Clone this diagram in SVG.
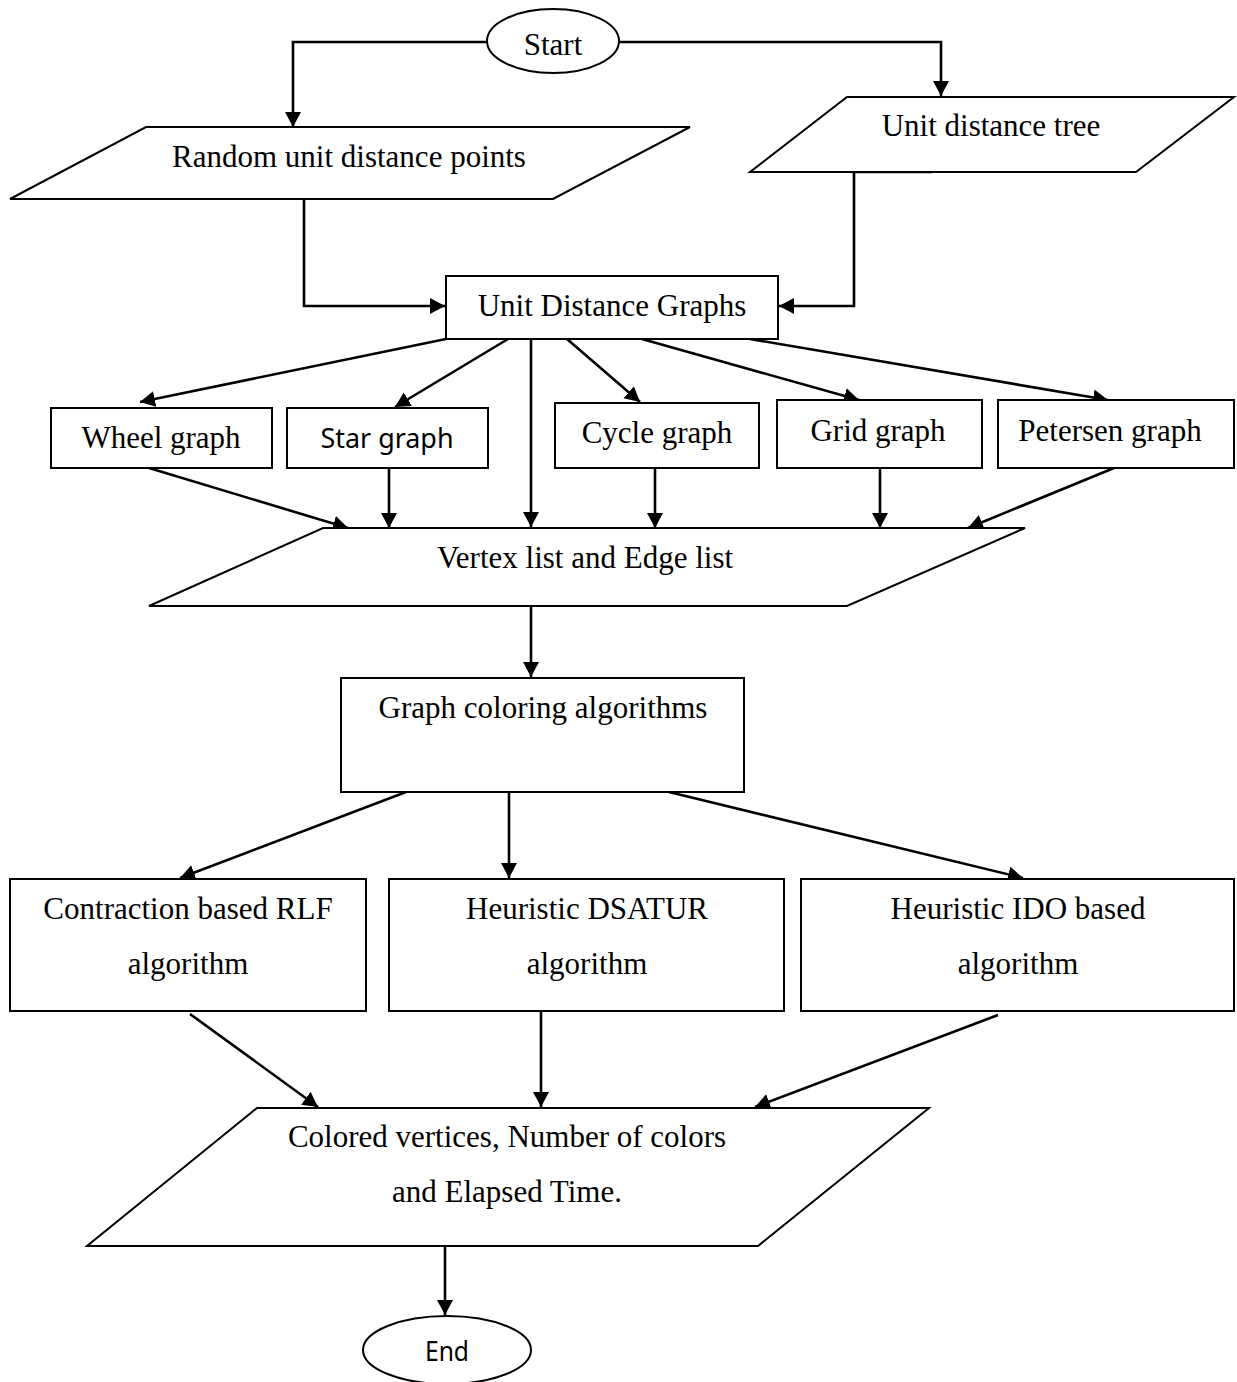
<svg xmlns="http://www.w3.org/2000/svg" width="1237" height="1382" viewBox="0 0 1237 1382">
  <style>
    .shape { fill: #ffffff; stroke: #000000; stroke-width: 2; }
    .lbl { font-family: "Liberation Serif", "Times New Roman", serif; font-size: 31px; fill: #000000; text-anchor: middle; }
    .sans { font-family: "Noto Sans", "Open Sans", sans-serif; font-size: 27px; fill: #000000; text-anchor: middle; }
    .edge { fill: none; stroke: #000000; stroke-width: 2.6; marker-end: url(#arrow); }
  </style>
  <defs>
    <marker id="arrow" markerUnits="userSpaceOnUse" markerWidth="18" markerHeight="18" refX="15" refY="8" orient="auto">
      <path d="M0,0 L15,8 L0,16 z" fill="#000000"/>
    </marker>
  </defs>
  <rect width="1237" height="1382" fill="#ffffff"/>

  <!-- connectors -->
  <g id="connectors">
    <path class="edge" d="M487,42 H293 V127"/>
    <path class="edge" d="M619,42 H941 V96"/>
    <path class="edge" d="M932,172 H854 V306 H779"/>
    <path class="edge" d="M304,199 V306 H445"/>
    <path class="edge" d="M446,339 L140,402"/>
    <path class="edge" d="M508,339 L395,407"/>
    <path class="edge" d="M531,339 V527"/>
    <path class="edge" d="M567,339 L640,402"/>
    <path class="edge" d="M642,339 L859,400"/>
    <path class="edge" d="M750,339 L1108,400"/>
    <path class="edge" d="M149,468 L348,528"/>
    <path class="edge" d="M389,468 V528"/>
    <path class="edge" d="M655,468 V528"/>
    <path class="edge" d="M880,468 V528"/>
    <path class="edge" d="M1114,468 L968,528"/>
    <path class="edge" d="M531,606 V677"/>
    <path class="edge" d="M406,792 L180,878"/>
    <path class="edge" d="M509,792 V878"/>
    <path class="edge" d="M669,792 L1023,878"/>
    <path class="edge" d="M190,1014 L318,1107"/>
    <path class="edge" d="M541,1011 V1107"/>
    <path class="edge" d="M998,1015 L755,1107"/>
    <path class="edge" d="M445,1246 V1315"/>
  </g>

  <!-- terminal: start -->
  <g id="start">
    <ellipse class="shape" cx="553" cy="41" rx="66" ry="32"/>
    <text class="lbl" x="553" y="55">Start</text>
  </g>

  <!-- input: random points -->
  <g id="random-points">
    <polygon class="shape" points="146,127 690,127 553,199 10,199"/>
    <text class="lbl" x="349" y="167">Random unit distance points</text>
  </g>

  <!-- input: tree -->
  <g id="unit-tree">
    <polygon class="shape" points="847,97 1234,97 1136,172 750,172"/>
    <text class="lbl" x="991" y="136">Unit distance tree</text>
  </g>

  <!-- unit distance graphs -->
  <g id="udg">
    <rect class="shape" x="446" y="276" width="332" height="63"/>
    <text class="lbl" x="612" y="316">Unit Distance Graphs</text>
  </g>

  <!-- graph families -->
  <g id="wheel">
    <rect class="shape" x="51" y="408" width="221" height="60"/>
    <text class="lbl" x="161" y="448">Wheel graph</text>
  </g>
  <g id="star">
    <rect class="shape" x="287" y="408" width="201" height="60"/>
    <text class="sans" x="387" y="448" textLength="133" lengthAdjust="spacingAndGlyphs">Star graph</text>
  </g>
  <g id="cycle">
    <rect class="shape" x="555" y="403" width="204" height="65"/>
    <text class="lbl" x="657" y="443">Cycle graph</text>
  </g>
  <g id="grid">
    <rect class="shape" x="777" y="400" width="205" height="68"/>
    <text class="lbl" x="878" y="441">Grid graph</text>
  </g>
  <g id="petersen">
    <rect class="shape" x="998" y="400" width="236" height="68"/>
    <text class="lbl" x="1110" y="441">Petersen graph</text>
  </g>

  <!-- vertex / edge list -->
  <g id="lists">
    <polygon class="shape" points="323,528 1025,528 847,606 149,606"/>
    <text class="lbl" x="585" y="568">Vertex list and Edge list</text>
  </g>

  <!-- coloring -->
  <g id="coloring">
    <rect class="shape" x="341" y="678" width="403" height="114"/>
    <text class="lbl" x="543" y="718">Graph coloring algorithms</text>
  </g>

  <!-- algorithms -->
  <g id="rlf">
    <rect class="shape" x="10" y="879" width="356" height="132"/>
    <text class="lbl" x="188" y="919">Contraction based RLF</text>
    <text class="lbl" x="188" y="974">algorithm</text>
  </g>
  <g id="dsatur">
    <rect class="shape" x="389" y="879" width="395" height="132"/>
    <text class="lbl" x="587" y="919">Heuristic DSATUR</text>
    <text class="lbl" x="587" y="974">algorithm</text>
  </g>
  <g id="ido">
    <rect class="shape" x="801" y="879" width="433" height="132"/>
    <text class="lbl" x="1018" y="919">Heuristic IDO based</text>
    <text class="lbl" x="1018" y="974">algorithm</text>
  </g>

  <!-- output -->
  <g id="result">
    <polygon class="shape" points="257,1108 929,1108 758,1246 87,1246"/>
    <text class="lbl" x="507" y="1147">Colored vertices, Number of colors</text>
    <text class="lbl" x="507" y="1202">and Elapsed Time.</text>
  </g>

  <!-- terminal: end -->
  <g id="end">
    <ellipse class="shape" cx="447" cy="1350" rx="84" ry="34"/>
    <text class="sans" x="447" y="1361" textLength="44" lengthAdjust="spacingAndGlyphs">End</text>
  </g>
</svg>
